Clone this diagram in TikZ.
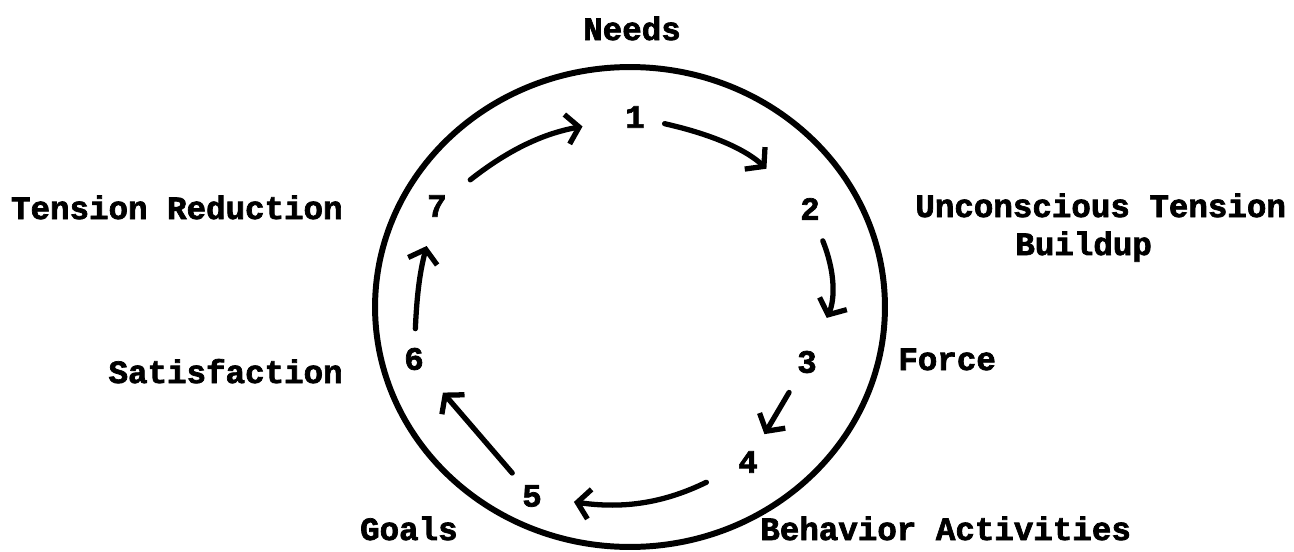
\documentclass[tikz,border=0pt]{standalone}
\usepackage{fontspec}
\setmainfont{Liberation Mono}[BoldFeatures={FakeBold=2.2}]
\usetikzlibrary{arrows.meta}

\begin{document}
\begin{tikzpicture}[x=0.02cm, y=-0.02cm,
		lbl/.style={font=\bfseries\fontsize{18.5}{22}\selectfont, inner sep=0pt},
		num/.style={lbl, circle, minimum size=1.2cm},
		cyc/.style={line width=3pt, line cap=round, -{Straight Barb[length=7pt, width=17pt, line width=3pt]}}]
			\useasboundingbox (0, 0) rectangle (1294, 551);
			\draw[line width=3.4pt] (630, 307) ellipse [x radius=5.1cm, y radius=4.8cm];
			% stages round the cycle
			\foreach \i/\x/\y in {1/635/117, 2/810/209, 3/807/362, 4/748/462, 5/532/496, 6/414/359, 7/437/206}
				\node[num] (n\i) at (\x, \y) {\i};
			\foreach \a/\b/\bend/\s/\e in {7/1/14/0.24/0.46, 1/2/15/0/0.58, 2/3/23/0.08/0.36, 3/4/0/0.1/0.04,
					4/5/17/0.32/0.24, 5/6/0/0/0.28, 6/7/6/0/0.22}
				\draw[cyc, shorten <=\s cm, shorten >=\e cm] (n\a) to[bend left=\bend] (n\b);
			% labels
			\node[lbl, anchor=base] (needs) at (632, 40) {Needs};
			\node[lbl, anchor=base west] (tension) at (915, 217) {Unconscious Tension};
			\node[lbl, anchor=base west] (buildup) at (1015, 255) {Buildup};
			\node[lbl, anchor=base west] (force) at (898, 370) {Force};
			\node[lbl, anchor=base west] (behavior) at (760, 540) {Behavior Activities};
			\node[lbl, anchor=base east] (goals) at (458, 540) {Goals};
			\node[lbl, anchor=base east] (satisf) at (343, 383) {Satisfaction};
			\node[lbl, anchor=base east] (reduction) at (343, 219) {Tension Reduction};
		\end{tikzpicture}
\end{document}
